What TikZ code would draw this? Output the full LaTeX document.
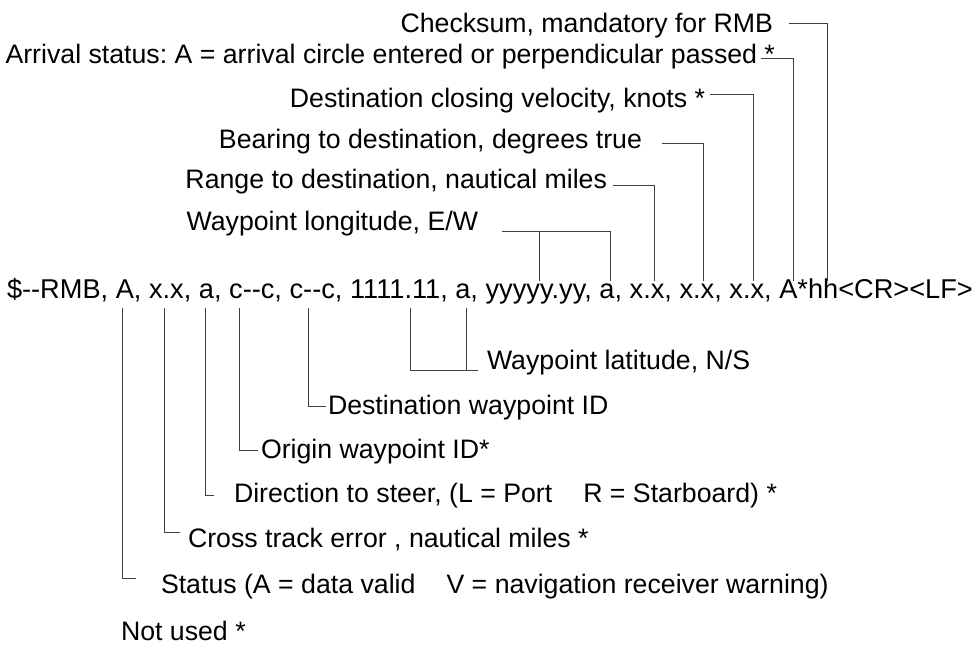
\documentclass[tikz,border=0pt]{standalone}
\usepackage{fontspec}
\setmainfont{Liberation Sans}
\frenchspacing
\begin{document}
\begin{tikzpicture}[x=1pt,y=-1pt,
  lbl/.style={inner sep=0pt, outer sep=0pt, font=\fontsize{26.7}{30}\selectfont},
  lblw/.style={lbl, anchor=base west},
  lble/.style={lbl, anchor=base east},
  conn/.style={line width=0.9pt, draw=black!75}]
\useasboundingbox (0,0) rectangle (977,646);
% main sentence
\node[lblw, font=\fontsize{27.2}{30}\selectfont] (main) at (7,298) {\$-{}-RMB, A, x.x, a, c-{}-c, c-{}-c, 1111.11, a, yyyyy.yy, a, x.x, x.x, x.x, A*hh<CR><LF>};
% upper labels
\node[lble] (chk) at (773,32) {Checksum, mandatory for RMB};
\node[lble] (arr) at (775,63) {Arrival status: A = arrival circle entered or perpendicular passed *};
\node[lble] (dcv) at (705,107) {Destination closing velocity, knots *};
\node[lble] (brg) at (642,148) {Bearing to destination, degrees true};
\node[lble] (rng) at (607,188) {Range to destination, nautical miles};
\node[lble] (lon) at (478,230) {Waypoint longitude, E/W};
% lower labels
\node[lblw] (lat) at (487,369) {Waypoint latitude, N/S};
\node[lblw] (dwp) at (328,414) {Destination waypoint ID};
\node[lblw] (org) at (261,458) {Origin waypoint ID*};
\node[lblw] (dir) at (234,502) {Direction to steer, (L = Port\hspace{31pt}R = Starboard) *};
\node[lblw] (cte) at (188,547) {Cross track error , nautical miles *};
\node[lblw] (sts) at (161,593) {Status (A = data valid\hspace{31pt}V = navigation receiver warning)};
\node[lblw] (nu) at (121,640) {Not used *};
% connector ends
\coordinate (chkA) at (789,23);  \coordinate (chkB) at (827,281);
\coordinate (arrA) at (761,58);  \coordinate (arrB) at (793,281);
\coordinate (dcvA) at (710,94);  \coordinate (dcvB) at (753,281);
\coordinate (brgA) at (662,143); \coordinate (brgB) at (703,281);
\coordinate (rngA) at (613,185); \coordinate (rngB) at (654,281);
\coordinate (lonA) at (502,231); \coordinate (lonB) at (610,281);
\coordinate (lonC) at (539,231); \coordinate (lonD) at (539,281);
\coordinate (latA) at (410,308); \coordinate (latB) at (478,370);
\coordinate (latC) at (466,308); \coordinate (latD) at (466,370);
\coordinate (dwpA) at (308,308); \coordinate (dwpB) at (326,406);
\coordinate (orgA) at (239,308); \coordinate (orgB) at (258,450);
\coordinate (dirA) at (205,308); \coordinate (dirB) at (214,495);
\coordinate (cteA) at (164,308); \coordinate (cteB) at (180,532);
\coordinate (stsA) at (122,308); \coordinate (stsB) at (136,578);
% connectors
\draw[conn] (chkA) -| (chkB);
\draw[conn] (arrA) -| (arrB);
\draw[conn] (dcvA) -| (dcvB);
\draw[conn] (brgA) -| (brgB);
\draw[conn] (rngA) -| (rngB);
\draw[conn] (lonA) -| (lonB);
\draw[conn] (lonC) -- (lonD);
\draw[conn] (latA) |- (latB);
\draw[conn] (latC) -- (latD);
\draw[conn] (dwpA) |- (dwpB);
\draw[conn] (orgA) |- (orgB);
\draw[conn] (dirA) |- (dirB);
\draw[conn] (cteA) |- (cteB);
\draw[conn] (stsA) |- (stsB);
\end{tikzpicture}
\end{document}
